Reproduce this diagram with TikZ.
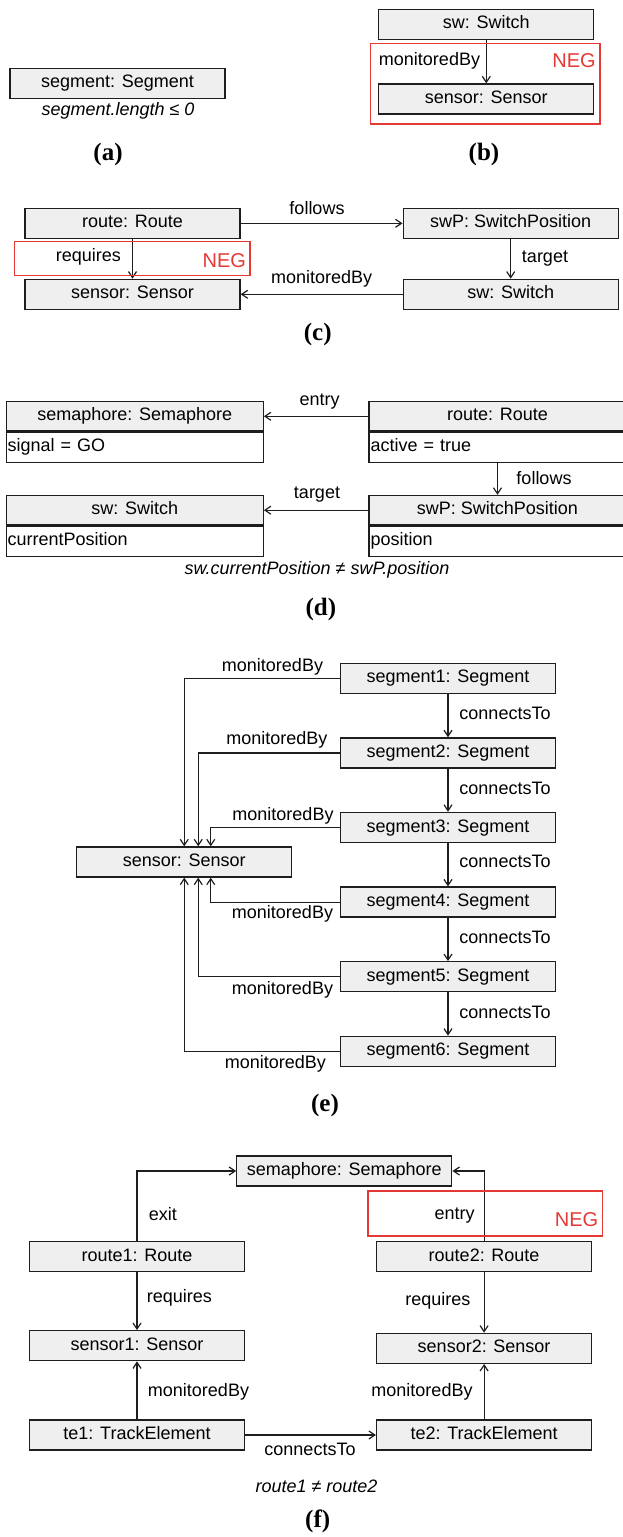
\documentclass[tikz,border=0pt]{standalone}
\usepackage{fontspec}
\setmainfont{Liberation Sans}
\newfontfamily\capfont{Liberation Serif}
\usetikzlibrary{arrows.meta}
\definecolor{boxfill}{RGB}{239,239,239}
\definecolor{negred}{RGB}{229,57,53}
\definecolor{ink}{RGB}{30,30,30}
\begin{document}
\begin{tikzpicture}[x=1pt,y=-1pt,
  every node/.style={font=\fontsize{18}{20}\selectfont, inner sep=0pt},
  obj/.style={draw=ink, fill=boxfill, line width=1.3pt, minimum width=215pt,
    minimum height=30pt, text height=13pt, text depth=3.8pt},
  head/.style={obj, minimum width=257pt, minimum height=29.5pt},
  attr/.style={draw=ink, fill=white, line width=1.3pt, minimum width=257pt,
    minimum height=30pt, text height=13pt, text depth=3.8pt,
    text width=254pt, inner xsep=1.5pt, align=left},
  rel/.style={draw=ink, line width=1.2pt, -{Straight Barb[length=6pt,width=8pt]}},
  negbox/.style={draw=negred, line width=1.5pt},
  negtxt/.style={text=negred, font=\fontsize{20}{22}\selectfont},
  cons/.style={font=\fontsize{18}{20}\selectfont\itshape},
  subcap/.style={font=\capfont\bfseries\fontsize{25}{28}\selectfont}]
\clip (0,0) rectangle (623,1537);

% ---------- (a) ----------
\node[obj] (aseg) at (117.5,83.3) {segment: Segment};
\node[cons] (acons) at (118,111) {segment.length ≤ 0};
\node[subcap] (acap) at (108,154) {(a)};

% ---------- (b) ----------
\node[obj] (bsw) at (486.3,24.3) {sw: Switch};
\node[obj] (bsen) at (486.3,99) {sensor: Sensor};
\draw[rel] (bsw.south) -- (bsen.north);
\node (blab) at (429.5,61) {monitoredBy};
\draw[negbox] (370.5,43.3) rectangle (600,124);
\node[negtxt] (bneg) at (574,61) {NEG};
\node[subcap] (bcap) at (484,154) {(b)};

% ---------- (c) ----------
\node[obj] (croute) at (132.5,223.3) {route: Route};
\node[obj] (cswp) at (510.7,223.3) {swP: SwitchPosition};
\node[obj] (csen) at (132.5,294.3) {sensor: Sensor};
\node[obj] (csw) at (510.7,294.3) {sw: Switch};
\draw[rel] (croute.east) -- (cswp.west);
\draw[rel] (cswp.south) -- (csw.north);
\draw[rel] (csw.west) -- (csen.east);
\draw[rel] (croute.south) -- (csen.north);
\node (cl1) at (317,208.3) {follows};
\node (cl2) at (545,258.3) {target};
\node (cl3) at (321.7,279.3) {monitoredBy};
\node (cl4) at (88.3,256.7) {requires};
\draw[negbox] (14.7,241.7) rectangle (250.2,275.7);
\node[negtxt] (cneg) at (224.3,260.7) {NEG};
\node[subcap] (ccap) at (317.7,334) {(c)};

% ---------- (d) ----------
\node[head] (dsem) at (134.7,416.3) {semaphore: Semaphore};
\node[attr, anchor=north] (dsemA) at (dsem.south) {signal = GO};
\node[head] (droute) at (497.5,416.3) {route: Route};
\node[attr, anchor=north] (drouteA) at (droute.south) {active = true};
\node[head] (dsw) at (134.7,510.2) {sw: Switch};
\node[attr, anchor=north] (dswA) at (dsw.south) {currentPosition};
\node[head] (dswp) at (497.5,510.2) {swP: SwitchPosition};
\node[attr, anchor=north] (dswpA) at (dswp.south) {position};
\draw[rel] (droute.west) -- (dsem.east);
\draw[rel] (dswp.west) -- (dsw.east);
\draw[rel] (drouteA.south) -- (dswp.north);
\node (dl1) at (319.7,401.7) {entry};
\node (dl2) at (317,495) {target};
\node (dl3) at (544,478.3) {follows};
\node[cons] (dcons) at (317,569.5) {sw.currentPosition ≠ swP.position};
\node[subcap] (dcap) at (320.8,609.3) {(d)};

% ---------- (e) ----------
\node[obj] (esen) at (184.25,862) {sensor: Sensor};
\foreach \i/\y in {1/678.3,2/752.9,3/827.5,4/902.1,5/976.7,6/1051.3}
  \node[obj] (eseg\i) at (448,\y) {segment\i: Segment};
\foreach \i/\j in {1/2,2/3,3/4,4/5,5/6}
  \draw[rel] (eseg\i.south) -- (eseg\j.north);
\foreach \y in {713.3,788.3,861.7,937.3,1012.3}
  \node at (505,\y) {connectsTo};
\draw[rel] (eseg1.west) -| (esen.north);
\draw[rel] (eseg2.west) -| ([xshift=14pt]esen.north);
\draw[rel] (eseg3.west) -| ([xshift=26.5pt]esen.north);
\draw[rel] (eseg4.west) -| ([xshift=26.5pt]esen.south);
\draw[rel] (eseg5.west) -| ([xshift=14pt]esen.south);
\draw[rel] (eseg6.west) -| (esen.south);
\node (el1) at (272.5,666.7) {monitoredBy};
\node (el2) at (276.8,740) {monitoredBy};
\node (el3) at (283,815.7) {monitoredBy};
\node (el4) at (282.5,914.3) {monitoredBy};
\node (el5) at (282.5,990) {monitoredBy};
\node (el6) at (275.3,1064) {monitoredBy};
\node[subcap] (ecap) at (325,1105) {(e)};

% ---------- (f) ----------
\node[obj] (fsem) at (344.3,1171) {semaphore: Semaphore};
\node[obj] (fr1) at (137,1256.7) {route1: Route};
\node[obj] (fr2) at (484.1,1256.7) {route2: Route};
\node[obj] (fs1) at (137,1345.7) {sensor1: Sensor};
\node[obj] (fs2) at (484.1,1348.3) {sensor2: Sensor};
\node[obj] (fte1) at (137,1435) {te1: TrackElement};
\node[obj] (fte2) at (484.1,1435) {te2: TrackElement};
\draw[rel] (fr1.north) |- (fsem.west);
\draw[rel] (fr2.north) |- (fsem.east);
\draw[rel] (fr1.south) -- (fs1.north);
\draw[rel] (fr2.south) -- (fs2.north);
\draw[rel] (fte1.north) -- (fs1.south);
\draw[rel] (fte2.north) -- (fs2.south);
\draw[rel] (fte1.east) -- (fte2.west);
\node (fl1) at (162.8,1214.3) {exit};
\node (fl2) at (454.7,1216) {entry};
\node (fl3) at (179.3,1298.3) {requires};
\node (fl4) at (437.8,1300.7) {requires};
\node (fl5) at (198.5,1392.3) {monitoredBy};
\node (fl6) at (422,1392.3) {monitoredBy};
\node (fl7) at (310,1449.3) {connectsTo};
\draw[negbox] (368.2,1191) rectangle (602.5,1236);
\node[negtxt] (fneg) at (576.5,1220) {NEG};
\node[cons] (fcons) at (316.5,1486.7) {route1 ≠ route2};
\node[subcap] (fcap) at (317.7,1521.7) {(f)};
\end{tikzpicture}
\end{document}
